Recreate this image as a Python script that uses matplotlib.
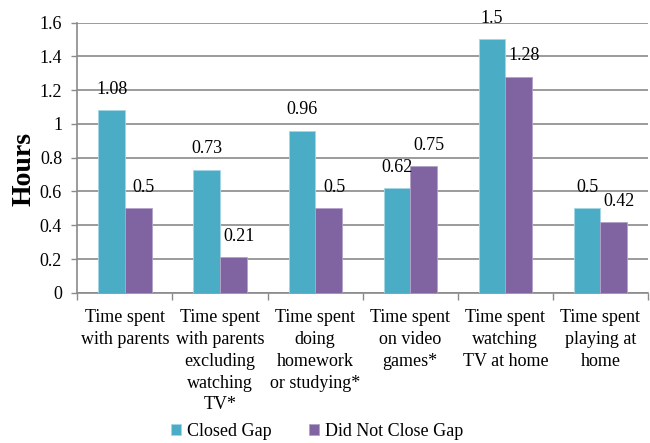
import matplotlib.pyplot as plt
import numpy as np

plt.rcParams['font.family'] = 'Liberation Serif'

categories = ['Time spent\nwith parents',
              'Time spent\nwith parents\nexcluding\nwatching\nTV*',
              'Time spent\ndoing\nhomework\nor studying*',
              'Time spent\non video\ngames*',
              'Time spent\nwatching\nTV at home',
              'Time spent\nplaying at\nhome']
closed_gap = [1.08, 0.73, 0.96, 0.62, 1.5, 0.5]
not_closed = [0.5, 0.21, 0.5, 0.75, 1.28, 0.42]
yticks = [0, 0.2, 0.4, 0.6, 0.8, 1, 1.2, 1.4, 1.6]

teal = '#4BACC6'
purple = '#8064A2'
grid_col = '#8a8a8a'
fs = 13

fig = plt.figure(figsize=(6.5, 4.43), dpi=100)
ax = fig.add_axes([0.119, 0.339, 0.878, 0.61])

x = np.arange(len(categories))
w = 0.28
b1 = ax.bar(x - w / 2, closed_gap, w, color=teal, edgecolor='#a5d6e3', linewidth=0.6,
            label='Closed Gap', zorder=3)
b2 = ax.bar(x + w / 2, not_closed, w, color=purple, edgecolor='#b3a2c9', linewidth=0.6,
            label='Did Not Close Gap', zorder=3)

for xi, v in zip(x - w / 2, closed_gap):
    ax.annotate(f'{v:g}', (xi, v), xytext=(0, 15), textcoords='offset points',
                ha='center', va='center', fontsize=fs)
for xi, v in zip(x + w / 2, not_closed):
    ax.annotate(f'{v:g}', (xi, v), xytext=(4, 15), textcoords='offset points',
                ha='center', va='center', fontsize=fs)

ax.set_ylim(0, 1.6)
ax.set_xlim(-0.5, len(categories) - 0.5)
ax.set_yticks(yticks)
ax.set_yticklabels([f'{t:g}' for t in yticks], fontsize=fs)
ax.yaxis.grid(True, color=grid_col, linewidth=1.2, zorder=0)
ax.set_axisbelow(True)

ax.set_xticks(x)
ax.set_xticklabels(categories, fontsize=fs, va='top', linespacing=1.36)
ax.set_xticks(np.arange(len(categories) + 1) - 0.5, minor=True)
ax.tick_params(axis='x', which='major', length=0, pad=12)
ax.tick_params(axis='x', which='minor', length=5, width=1, color=grid_col, direction='out')
ax.tick_params(axis='y', length=4, width=1, color=grid_col, pad=7)

for s in ['top', 'right']:
    ax.spines[s].set_visible(False)
for s in ['left', 'bottom']:
    ax.spines[s].set_color(grid_col)
    ax.spines[s].set_linewidth(1.2)

ax.set_ylabel('Hours', fontsize=20, fontweight='bold')
ax.yaxis.set_label_coords(-0.072, 0.46)

fig.legend(handles=[b1, b2], loc='center', bbox_to_anchor=(0.488, 0.026), ncol=2,
           frameon=False, fontsize=fs, handlelength=0.55, handleheight=0.55,
           handletextpad=0.3, columnspacing=2.1, borderpad=0)

fig.savefig('out.png', dpi=100)
